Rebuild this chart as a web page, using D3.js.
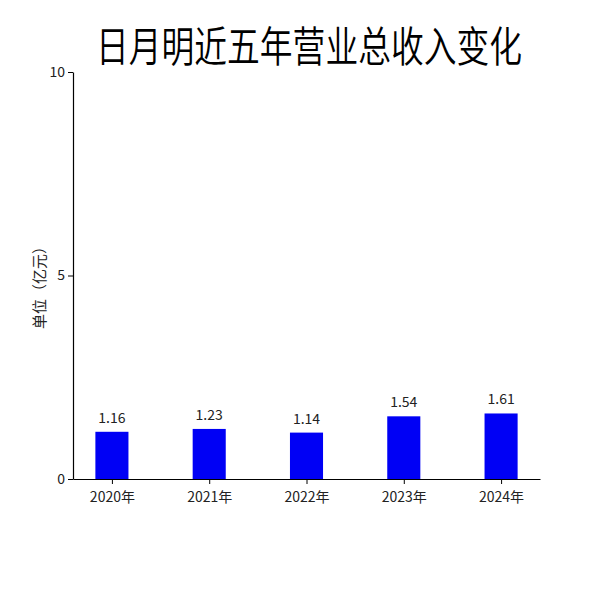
<html>
<head>
<meta charset="utf-8">
<script src="https://d3js.org/d3.v7.min.js"></script>
<style>
  body { margin: 0; background: #fff; }
  text { font-family: "Noto Sans CJK SC", "Noto Sans", sans-serif; }
</style>
</head>
<body>
<svg id="chart" width="600" height="600"></svg>
<script>
// data
const years = ["2020年", "2021年", "2022年", "2023年", "2024年"];
const revenue = [1.16, 1.23, 1.14, 1.54, 1.61];
const yTicks = [0, 5, 10];

const svg = d3.select("#chart");
const margin = { top: 72, right: 60, bottom: 121, left: 73 };
const W = 600, H = 600;
const plotW = W - margin.left - margin.right;
const plotH = H - margin.top - margin.bottom;

const g = svg.append("g").attr("transform", `translate(${margin.left},${margin.top})`);

const x = d3.scalePoint().domain(years).range([0, plotW]).padding(0.4);
const barW = x.step() * 0.34;
const y = d3.scaleLinear().domain([0, 10]).range([plotH, 0]);

// title
svg.append("text")
  .attr("transform", "translate(309,62) scale(0.78,1)")
  .attr("text-anchor", "middle")
  .attr("font-size", 42)
  .attr("font-weight", 350)
  .attr("fill", "#000")
  .text("日月明近五年营业总收入变化");

// bars
g.selectAll("rect.bar").data(revenue).join("rect")
  .attr("class", "bar")
  .attr("x", (d, i) => x(years[i]) - barW / 2)
  .attr("width", barW)
  .attr("y", d => y(d))
  .attr("height", d => y(0) - y(d))
  .attr("fill", "#0000f5");

// value labels
g.selectAll("text.val").data(revenue).join("text")
  .attr("class", "val")
  .attr("x", (d, i) => x(years[i]))
  .attr("y", d => y(d) - 9)
  .attr("text-anchor", "middle")
  .attr("font-size", 14)
  .attr("fill", "#222")
  .text(d => d.toFixed(2));

// axes
const xAxis = g.append("g").attr("transform", `translate(0,${plotH})`)
  .call(d3.axisBottom(x).tickSize(5).tickSizeOuter(0));
const yAxis = g.append("g")
  .call(d3.axisLeft(y).tickValues(yTicks).tickSize(5).tickSizeOuter(0));

[xAxis, yAxis].forEach(a => {
  a.select(".domain").attr("stroke", "#000").attr("stroke-width", 1.2);
  a.selectAll(".tick line").attr("stroke", "#000");
  a.selectAll(".tick text").attr("font-size", 14).attr("fill", "#222")
    .attr("font-family", "\"Noto Sans CJK SC\", sans-serif");
});
xAxis.selectAll(".tick text").attr("dy", "1.1em");

// y label
svg.append("text")
  .attr("transform", "translate(45,284) rotate(-90)")
  .attr("text-anchor", "middle")
  .attr("font-size", 15)
  .attr("fill", "#222")
  .text("单位（亿元）");
</script>
</body>
</html>
